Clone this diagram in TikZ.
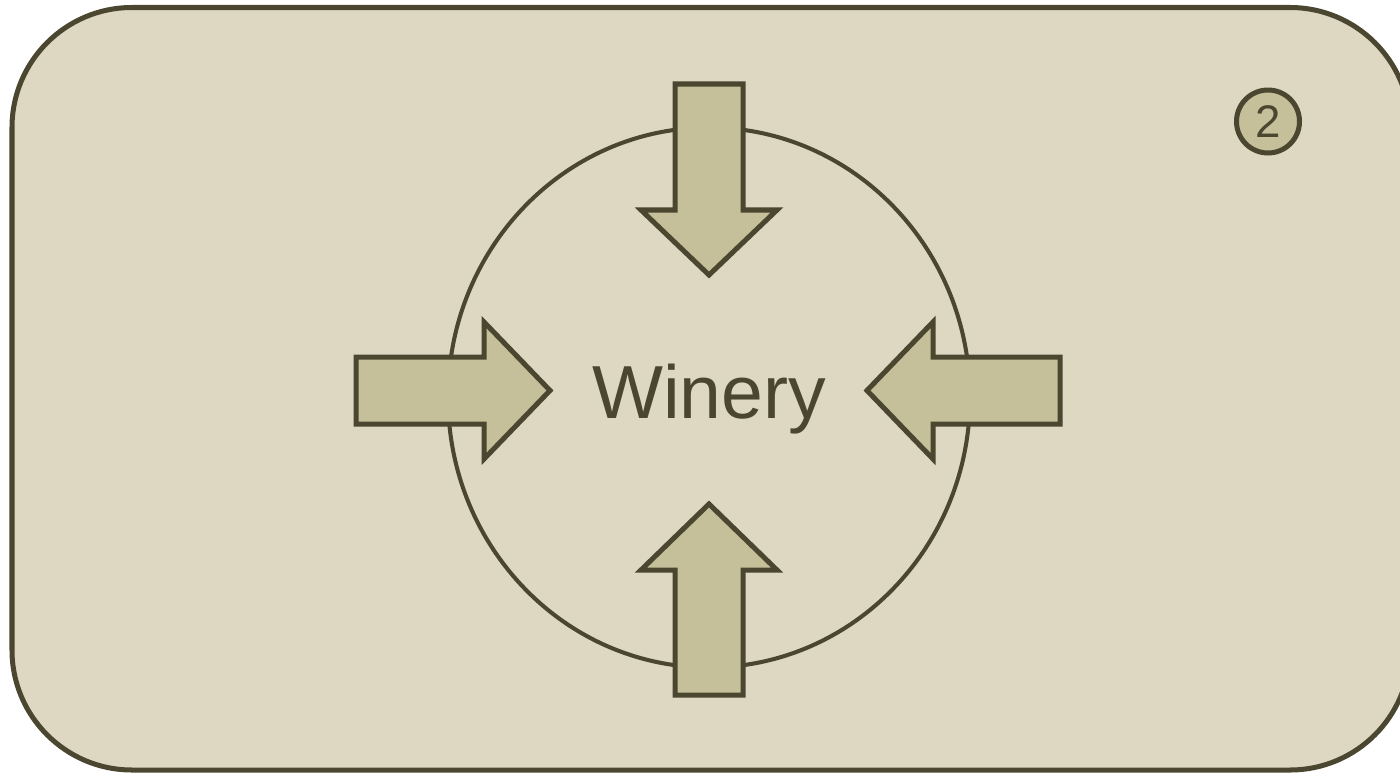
\documentclass[tikz,border=0pt]{standalone}
\usepackage{fontspec}
\setmainfont{Liberation Sans}
\definecolor{ink}{HTML}{4B4630}
\definecolor{bg}{HTML}{DED8C3}
\definecolor{arrowfill}{HTML}{C5BF9A}
\tikzset{
  panel/.style={draw=ink, fill=bg, line width=2.85pt, rounded corners=2.4cm},
  hubring/.style={draw=ink, line width=2.3pt, ellipse, minimum width=10.44cm, minimum height=10.8cm, inner sep=0pt},
  bigarrow/.style={draw=ink, fill=arrowfill, line width=2.85pt, miter limit=10},
  badge/.style={draw=ink, fill=arrowfill, line width=2.85pt, circle, minimum size=1.26cm, inner sep=0pt, text=ink, font=\fontsize{26pt}{27pt}\selectfont},
  label/.style={text=ink, font=\fontsize{42.8pt}{44pt}\selectfont, inner sep=0pt}
}
\usetikzlibrary{shapes.geometric}
\begin{document}
\begin{tikzpicture}[x=0.02cm, y=-0.02cm]
\useasboundingbox (0,0) rectangle (1400,774);
\clip (0,0) rectangle (1400,774);
\draw[panel] (12,7.5) rectangle (1410,770);
\node[hubring] (hub) at (709,397.5) {};
% top arrow
\draw[bigarrow] (675,84) -- (743,84) -- (743,210) -- (777,210) -- (709,275) -- (641,210) -- (675,210) -- cycle;
% bottom arrow
\draw[bigarrow] (675,695) -- (743,695) -- (743,570) -- (777,570) -- (709,504) -- (641,570) -- (675,570) -- cycle;
% left arrow
\draw[bigarrow] (356,357) -- (356,424) -- (484,424) -- (484,459) -- (550,390.5) -- (484,322) -- (484,357) -- cycle;
% right arrow
\draw[bigarrow] (1060,357) -- (1060,424) -- (933,424) -- (933,459) -- (867,390.5) -- (933,322) -- (933,357) -- cycle;
\node[label, anchor=base] (winery) at (709,418) {Winery};
\node[badge] (num) at (1268,121.5) {2};
\end{tikzpicture}
\end{document}
